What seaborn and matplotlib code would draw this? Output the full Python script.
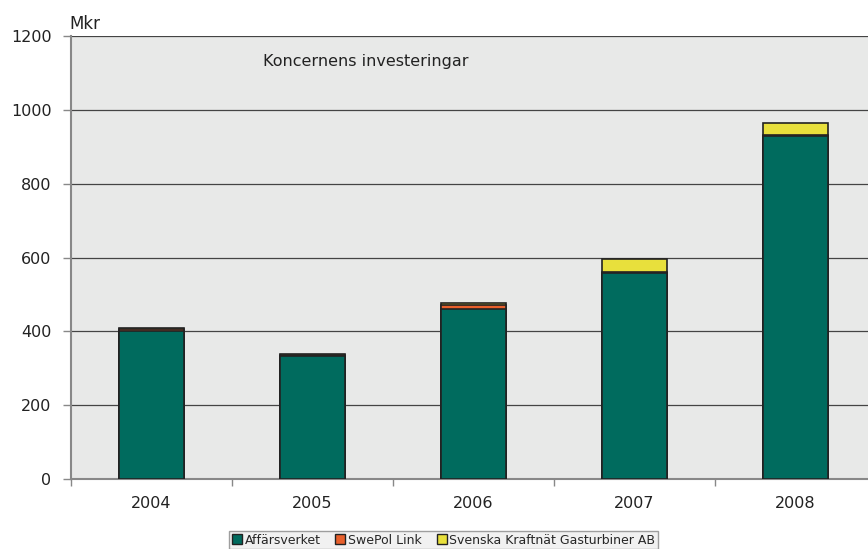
import numpy as np
import pandas as pd
import seaborn as sns
import matplotlib.pyplot as plt
from matplotlib.patches import Patch

# data (Mkr)
years = ['2004', '2005', '2006', '2007', '2008']
affarsverket = [402, 333, 460, 557, 928]
swepol = [5, 3, 12, 3, 3]
gasturbiner = [3, 2, 5, 37, 33]
series_names = ['Affärsverket', 'SwePol Link', 'Svenska Kraftnät Gasturbiner AB']
colors = ['#006B5E', '#E8602C', '#E8E03C']

df = pd.DataFrame({'year': years,
                   'Affärsverket': affarsverket,
                   'SwePol Link': swepol,
                   'Svenska Kraftnät Gasturbiner AB': gasturbiner})
df['c1'] = df['Affärsverket']
df['c2'] = df['c1'] + df['SwePol Link']
df['c3'] = df['c2'] + df['Svenska Kraftnät Gasturbiner AB']

sns.set_style('white')
plt.rcParams['font.family'] = ['DejaVu Sans']

fig = plt.figure(figsize=(8.68, 5.49), dpi=100)
ax = fig.add_axes([71 / 868, 70 / 549, 797 / 868, 443 / 549])
ax.set_facecolor('#E8E9E8')

# stacked bars: draw cumulative totals from the top down
for col, c in zip(['c3', 'c2', 'c1'], colors[::-1]):
    sns.barplot(data=df, x='year', y=col, color=c, width=0.4,
                edgecolor='#222222', linewidth=1.2, saturation=1, ax=ax, zorder=3)

ax.set_ylim(0, 1200)
ax.set_yticks(range(0, 1201, 200))
ax.yaxis.grid(True, color='#444444', linewidth=0.9, zorder=0)
ax.set_axisbelow(True)

ax.set_xlabel('')
ax.set_ylabel('')
ax.set_xticks(range(len(years)))
ax.set_xticklabels(years)
ax.set_xticks(np.arange(-0.5, 4.6, 1), minor=True)
ax.tick_params(axis='x', which='major', bottom=False, labelsize=11.5, pad=9, colors='#222222')
ax.tick_params(axis='x', which='minor', bottom=True, length=5, width=1, color='#888888',
               direction='out')
ax.tick_params(axis='y', left=True, length=6, width=1, color='#888888', labelsize=11.5,
               pad=8, labelcolor='#222222', direction='out')

for s in ['top', 'right']:
    ax.spines[s].set_visible(False)
ax.spines['left'].set_color('#888888')
ax.spines['bottom'].set_color('#888888')
ax.spines['left'].set_linewidth(1.5)
ax.spines['bottom'].set_linewidth(1.5)

ax.text(0.69, 1130, 'Koncernens investeringar', fontsize=11.5, color='#222222',
        ha='left', va='center')
fig.text(69 / 868, 1 - 29 / 549, 'Mkr', fontsize=12, color='#222222', ha='left', va='baseline')

handles = [Patch(facecolor=c, edgecolor='#222222', linewidth=1) for c in colors]
leg = fig.legend(handles, series_names, loc='lower center', ncol=3,
                 bbox_to_anchor=(0.511, 0.0), fontsize=9, frameon=True,
                 fancybox=False, edgecolor='#888888', facecolor='#EEEEEE',
                 handlelength=0.8, handleheight=0.8, handletextpad=0.2,
                 columnspacing=1.2, borderpad=0.2, borderaxespad=0)
leg.get_frame().set_linewidth(1)

ax.set_autoscale_on(False)
ax.set_xlim(-0.5, 4.45)

fig.savefig('out.png', dpi=100)
